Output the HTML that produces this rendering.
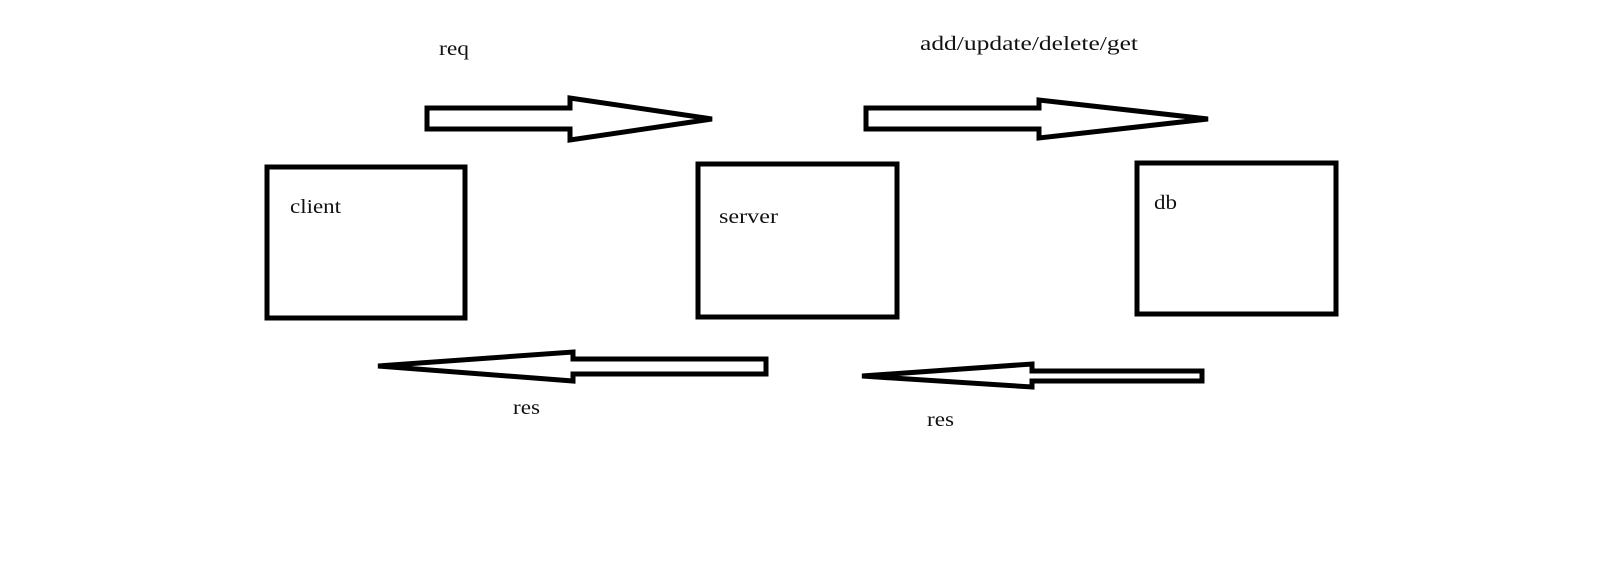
<!DOCTYPE html>
<html><head><meta charset="utf-8"><style>html,body{margin:0;padding:0;background:#fff;width:1608px;height:568px;overflow:hidden}</style></head>
<body>
<svg width="1608" height="568" xmlns="http://www.w3.org/2000/svg" style="display:block">
<g fill="none" stroke="#000" stroke-width="5" stroke-linejoin="miter">
<rect x="267" y="167" width="198" height="151"/>
<rect x="698" y="164" width="199" height="153"/>
<rect x="1137" y="163" width="199" height="151"/>
<polygon points="427,108 570,108 570,98 712,119 570,140 570,129 427,129"/>
<polygon points="866,108 1039,108 1039,100 1208,119 1039,138 1039,129 866,129"/>
<polygon points="766,359 573,359 573,352 378,366 573,381 573,374 766,374"/>
<polygon points="1202,371 1032,371 1032,364 862,376 1032,387 1032,381 1202,381"/>
</g>
<g font-family="Liberation Serif, serif" font-size="20" fill="#111">
<text x="439" y="55" textLength="30" lengthAdjust="spacingAndGlyphs">req</text>
<text x="920" y="50" textLength="218" lengthAdjust="spacingAndGlyphs">add/update/delete/get</text>
<text x="290" y="213" textLength="51" lengthAdjust="spacingAndGlyphs">client</text>
<text x="719" y="223" textLength="59" lengthAdjust="spacingAndGlyphs">server</text>
<text x="1154" y="209" textLength="23" lengthAdjust="spacingAndGlyphs">db</text>
<text x="513" y="414" textLength="27" lengthAdjust="spacingAndGlyphs">res</text>
<text x="927" y="426" textLength="27" lengthAdjust="spacingAndGlyphs">res</text>
</g>
</svg>
</body></html>
